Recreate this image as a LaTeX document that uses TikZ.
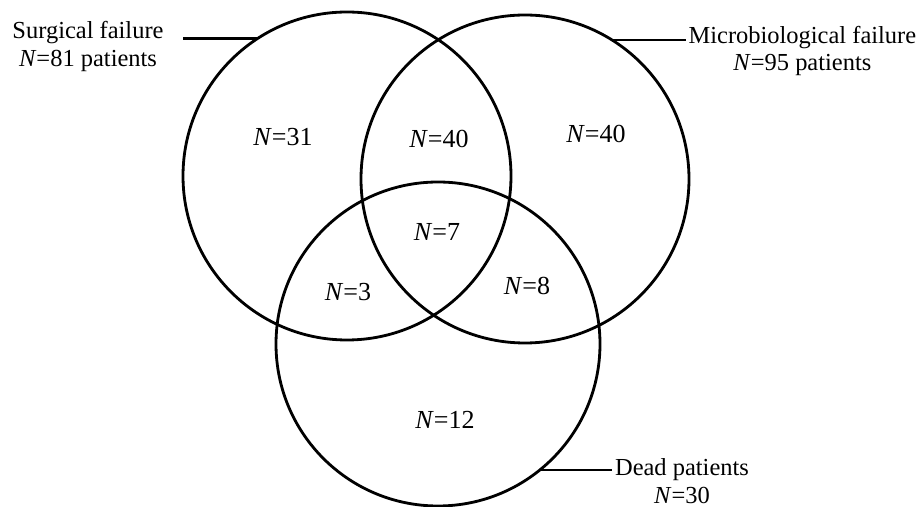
\documentclass[tikz,border=0pt]{standalone}
\usepackage{fontspec}
\setmainfont{Liberation Serif}

\begin{document}
\begin{tikzpicture}[
  set/.style={circle,draw=black,line width=2pt,inner sep=0pt,outer sep=0pt},
  count/.style={font=\fontsize{18.5}{20}\selectfont},
  setlabel/.style={font=\fontsize{17.4}{19.5}\selectfont,align=center,inner sep=2pt},
  leader/.style={line width=1.8pt}]
\useasboundingbox (0,0) rectangle (23,12.675);
\node[set,minimum size=8.2cm] (surg) at (8.675,8.275) {};
\node[set,minimum size=8.2cm] (micro) at (13.125,8.2) {};
\node[set,minimum size=8.1cm] (dead) at (10.95,4.075) {};

\node[count] (n31) at (7.075,9.25) {\textit{N}=31};
\node[count] (n40a) at (10.975,9.2) {\textit{N}=40};
\node[count] (n40b) at (14.9,9.325) {\textit{N}=40};
\node[count] (n7) at (10.925,6.875) {\textit{N}=7};
\node[count] (n3) at (8.7,5.375) {\textit{N}=3};
\node[count] (n8) at (13.175,5.525) {\textit{N}=8};
\node[count] (n12) at (11.125,2.175) {\textit{N}=12};

\node[setlabel] (surglab) at (2.2,11.51) {Surgical failure\\\textit{N}=81 patients};
\node[setlabel] (microlab) at (20.06,11.4) {Microbiological failure\\\textit{N}=95 patients};
\node[setlabel] (deadlab) at (17.05,0.65) {Dead patients\\\textit{N}=30};

\draw[leader] (surg.123.5) -- ([xshift=0.4cm]surglab.east |- surg.123.5);
\draw[leader] (micro.58.5) -- (micro.58.5 -| microlab.west);
\draw[leader] (dead.-51) -- (dead.-51 -| deadlab.west);
\end{tikzpicture}
\end{document}
